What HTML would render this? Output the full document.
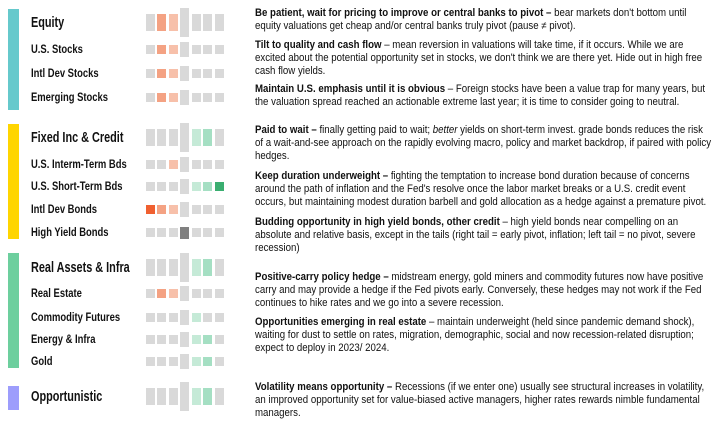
<!DOCTYPE html>
<html><head><meta charset="utf-8"><style>
body{margin:0;width:724px;height:425px;background:#fff;position:relative;overflow:hidden;font-family:"Liberation Sans",sans-serif;color:#111}
.b{position:absolute;left:8px;width:11px}
.s{position:absolute;width:9px}
.l{position:absolute;left:31px;font-weight:bold;white-space:nowrap;transform-origin:0 50%}
.h{font-size:14.5px;transform:translateY(-50%) scaleX(0.75)}
.n{font-size:11.5px;transform:translateY(-50%) scaleX(0.82)}
.p{position:absolute;left:255px;font-size:10.8px;line-height:13px;white-space:nowrap;transform:scaleX(0.895);transform-origin:0 0}
.p b{font-weight:bold}
</style></head><body>
<div class="b" style="top:9px;height:101px;background:#66c9cc"></div>
<div class="b" style="top:124px;height:115px;background:#ffd500"></div>
<div class="b" style="top:253px;height:115px;background:#6dcf9e"></div>
<div class="b" style="top:386px;height:24px;background:#9d9dfc"></div>
<div id="g"></div>

<div class="p" style="top:7px"><b>Be patient, wait for pricing to improve or central banks to pivot –</b> bear markets don't bottom until<br>equity valuations get cheap and/or central banks truly pivot (pause ≠ pivot).</div>
<div class="p" style="top:39px"><b>Tilt to quality and cash flow</b> – mean reversion in valuations will take time, if it occurs. While we are<br>excited about the potential opportunity set in stocks, we don't think we are there yet. Hide out in high free<br>cash flow yields.</div>
<div class="p" style="top:83px"><b>Maintain U.S. emphasis until it is obvious</b> – Foreign stocks have been a value trap for many years, but<br>the valuation spread reached an actionable extreme last year; it is time to consider going to neutral.</div>
<div class="p" style="top:124px"><b>Paid to wait –</b> finally getting paid to wait; <i>better</i> yields on short-term invest. grade bonds reduces the risk<br>of a wait-and-see approach on the rapidly evolving macro, policy and market backdrop, if paired with policy<br>hedges.</div>
<div class="p" style="top:170px"><b>Keep duration underweight –</b> fighting the temptation to increase bond duration because of concerns<br>around the path of inflation and the Fed's resolve once the labor market breaks or a U.S. credit event<br>occurs, but maintaining modest duration barbell and gold allocation as a hedge against a premature pivot.</div>
<div class="p" style="top:216px"><b>Budding opportunity in high yield bonds, other credit</b> – high yield bonds near compelling on an<br>absolute and relative basis, except in the tails (right tail = early pivot, inflation; left tail = no pivot, severe<br>recession)</div>
<div class="p" style="top:271px"><b>Positive-carry policy hedge –</b> midstream energy, gold miners and commodity futures now have positive<br>carry and may provide a hedge if the Fed pivots early. Conversely, these hedges may not work if the Fed<br>continues to hike rates and we go into a severe recession.</div>
<div class="p" style="top:316px"><b>Opportunities emerging in real estate</b> – maintain underweight (held since pandemic demand shock),<br>waiting for dust to settle on rates, migration, demographic, social and now recession-related disruption;<br>expect to deploy in 2023/ 2024.</div>
<div class="p" style="top:381px"><b>Volatility means opportunity –</b> Recessions (if we enter one) usually see structural increases in volatility,<br>an improved opportunity set for value-biased active managers, higher rates rewards nimble fundamental<br>managers.</div>

<script>
var G='#d9d9d9',M='#f4a283',L='#f7c0aa',D='#f06030',LG='#c5ead7',MG='#a5dfc3',DG='#3aae70',K='#808080';
var xs=[146,157,169,180,192,203,215];
var rows=[
['Equity',1,14,[G,M,L,G,G,G,G]],
['U.S. Stocks',0,45,[G,M,L,G,G,G,G]],
['Intl Dev Stocks',0,69,[G,M,L,G,G,G,G]],
['Emerging Stocks',0,93,[G,M,L,G,G,G,G]],
['Fixed Inc &amp; Credit',1,129,[G,G,G,G,LG,MG,G]],
['U.S. Interm-Term Bds',0,160,[G,G,L,G,G,G,G]],
['U.S. Short-Term Bds',0,182,[G,G,G,G,LG,MG,DG]],
['Intl Dev Bonds',0,205,[D,M,L,G,G,G,G]],
['High Yield Bonds',0,228,[G,G,G,K,G,G,G]],
['Real Assets &amp; Infra',1,259,[G,G,G,G,LG,MG,G]],
['Real Estate',0,289,[G,M,L,G,G,G,G]],
['Commodity Futures',0,313,[G,G,G,G,LG,G,G]],
['Energy &amp; Infra',0,335,[G,G,G,G,LG,MG,G]],
['Gold',0,357,[G,G,G,G,LG,MG,G]],
['Opportunistic',1,388,[G,G,G,G,LG,MG,G]]];
var h='';
rows.forEach(function(r){
 var hh=r[1]?17:9,ex=r[1]?6:3,y=r[2];
 h+='<div class="l '+(r[1]?'h':'n')+'" style="top:'+(y+hh/2)+'px">'+r[0]+'</div>';
 r[3].forEach(function(c,i){
  var t=y,H=hh;if(i==3&&c!=K){t=y-ex;H=hh+2*ex;} if(c==K){t=y-1;H=hh+3;}
  h+='<div class="s" style="left:'+xs[i]+'px;top:'+t+'px;height:'+H+'px;background:'+c+'"></div>';
 });
});
document.getElementById('g').innerHTML=h;
</script>
</body></html>
